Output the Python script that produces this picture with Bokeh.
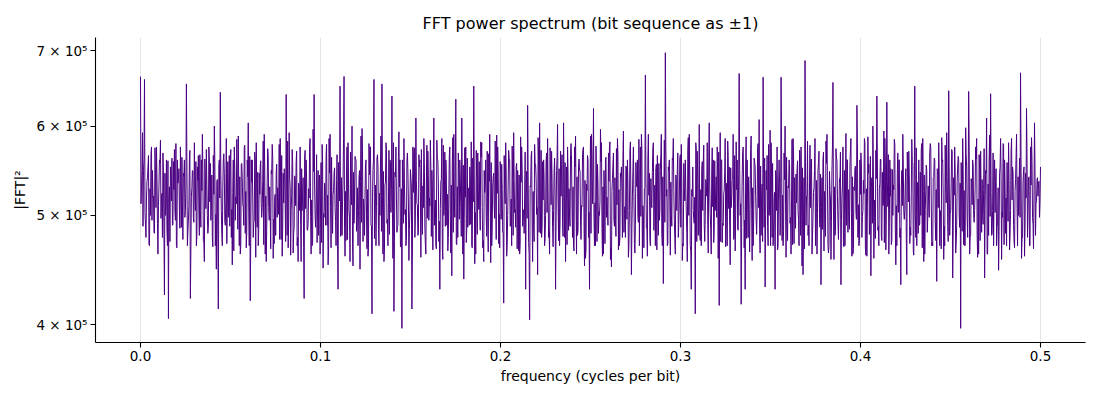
import numpy as np
from bokeh.plotting import figure
from bokeh.models import ColumnDataSource, Range1d, FixedTicker, PrintfTickFormatter
from bokeh.embed import file_html
from bokeh.resources import INLINE

# power values, in thousands (peaks / troughs)
power_k = [
    664, 592, 660, 518, 565, 500, 548, 482, 575, 510, 583, 478, 425, 560, 405, 552, 490, 572, 470, 538,
    575, 512, 560, 654, 495, 422, 548, 580, 470, 565, 505, 590, 455, 572, 488, 556, 478, 600, 448, 413,
    643, 470, 545, 585, 498, 560, 452, 575, 512, 588, 462, 540, 575, 468, 604, 420, 560, 495, 580, 470,
    552, 508, 590, 455, 565, 500, 578, 472, 545, 515, 585, 460, 550, 640, 468, 530, 572, 488, 558, 455,
    575, 505, 422, 560, 492, 585, 470, 640, 510, 548, 462, 578, 498, 565, 452, 590, 505, 545, 470, 430,
    651, 480, 664, 475, 580, 455, 600, 492, 560, 470, 448, 597, 505, 560, 460, 575, 409, 660, 470, 552,
    500, 654, 455, 580, 470, 560, 638, 411, 575, 490, 560, 397, 585, 470, 548, 505, 413, 570, 610, 480,
    560, 498, 585, 462, 570, 510, 548, 610, 470, 560, 430, 585, 500, 560, 465, 575, 442, 590, 634, 478,
    560, 610, 439, 575, 488, 552, 470, 651, 462, 568, 505, 580, 455, 560, 498, 590, 470, 545, 515, 575,
    468, 555, 418, 580, 500, 560, 470, 592, 488, 548, 462, 575, 505, 430, 626, 404, 570, 490, 555, 443,
    604, 478, 560, 500, 585, 462, 570, 505, 430, 602, 470, 555, 604, 455, 575, 498, 560, 470, 588, 480,
    548, 510, 575, 458, 565, 430, 590, 622, 470, 555, 500, 580, 462, 560, 505, 575, 450, 568, 495, 585,
    470, 552, 594, 478, 560, 505, 443, 575, 490, 560, 470, 590, 500, 666, 460, 545, 512, 580, 470, 565,
    495, 590, 435, 697, 470, 560, 500, 585, 462, 548, 515, 578, 470, 560, 455, 590, 430, 505, 409, 570,
    602, 470, 555, 498, 580, 604, 462, 560, 505, 575, 416, 560, 490, 585, 470, 552, 508, 590, 465, 560,
    668, 417, 575, 430, 560, 495, 588, 470, 552, 505, 608, 480, 663, 432, 565, 500, 580, 470, 430, 575,
    560, 663, 470, 600, 490, 560, 462, 585, 505, 548, 470, 575, 443, 686, 520, 470, 560, 500, 585, 462,
    570, 434, 560, 505, 590, 470, 457, 656, 480, 560, 505, 434, 575, 470, 560, 498, 585, 462, 550, 626,
    470, 568, 505, 580, 460, 555, 442, 600, 498, 638, 470, 560, 510, 585, 630, 462, 550, 500, 578, 470,
    560, 434, 590, 505, 443, 570, 480, 555, 651, 470, 560, 500, 585, 462, 548, 512, 575, 470, 560, 437,
    580, 498, 560, 470, 592, 645, 505, 440, 575, 490, 560, 397, 585, 470, 552, 644, 480, 560, 505, 585,
    462, 570, 500, 440, 610, 480, 641, 505, 560, 470, 447, 585, 498, 560, 470, 580, 505, 552, 468, 590,
    500, 669, 478, 460, 622, 540, 575, 498, 604, 515, 534, 552,
]

# in-between samples of the dense band, in thousands
power_mid_k = [
    530, 548, 490, 540, 470, 575, 520, 545, 492, 560, 515, 548, 500, 470, 530, 515, 558, 495, 560, 505,
    488, 545, 505, 470, 560, 520, 498, 505, 552, 480, 560, 475, 540, 500, 562, 505, 565, 470, 538, 560,
    505, 560, 490, 510, 565, 478, 560, 495, 540, 470, 555, 508, 482, 560, 470, 560, 478, 560, 488, 545,
    512, 582, 462, 535, 495, 548, 458, 522, 498, 578, 476, 545, 510, 480, 592, 505, 463, 538, 470, 528,
    455, 540, 571, 486, 518, 462, 596, 500, 473, 534, 557, 449, 526, 490, 585, 468, 522, 508, 566, 545,
    482, 537, 460, 575, 505, 528, 451, 564, 496, 541, 588, 474, 520, 467, 579, 490, 548, 515, 562, 470,
    588, 462, 532, 492, 571, 503, 458, 546, 483, 593, 469, 527, 501, 559, 456, 540, 575, 478, 512, 566,
    459, 531, 488, 577, 495, 552, 466, 508, 583, 474, 536, 457, 569, 490, 522, 463, 586, 498, 471, 545,
    508, 462, 574, 486, 529, 491, 562, 453, 538, 506, 581, 468, 524, 479, 567, 454, 531, 497, 589, 472,
    545, 483, 526, 460, 571, 492, 538, 503, 556, 465, 587, 489, 518, 547, 473, 530, 455, 578, 501, 561,
    482, 558, 470, 568, 478, 545, 488, 562, 548, 475, 570, 492, 478, 552, 485, 566, 478, 575, 462, 552,
    495, 566, 451, 533, 478, 588, 512, 470, 543, 482, 596, 460, 527, 498, 568, 457, 539, 489, 573, 466,
    545, 478, 502, 552, 459, 581, 520, 472, 534, 493, 575, 458, 528, 487, 590, 470, 546, 511, 555, 480,
    548, 470, 583, 520, 552, 461, 562, 495, 538, 478, 566, 456, 529, 504, 586, 470, 520, 492, 573, 480,
    475, 558, 490, 532, 463, 502, 574, 486, 541, 458, 592, 473, 526, 499, 565, 452, 537, 480, 581, 485,
    500, 540, 468, 587, 478, 521, 456, 562, 497, 579, 463, 533, 488, 548, 470, 595, 478, 516, 540, 470,
    480, 475, 568, 459, 531, 492, 584, 472, 544, 505, 566, 451, 540, 490, 480, 577, 462, 529, 496, 548,
    488, 540, 465, 582, 470, 526, 548, 457, 573, 493, 535, 520, 469, 591, 483, 552, 460, 530, 505, 478,
    560, 478, 523, 461, 587, 497, 540, 458, 571, 485, 533, 475, 594, 466, 509, 560, 475, 527, 452, 568,
    478, 548, 503, 550, 540, 472, 584, 461, 478, 535, 492, 579, 455, 526, 498, 568, 470, 541, 475, 548,
    470, 586, 457, 529, 490, 480, 572, 540, 463, 553, 488, 520, 471, 598, 478, 462, 534, 501, 575, 459,
    548, 483, 527, 548, 462, 589, 480, 470, 536, 494, 545, 457, 577, 482, 523, 466, 585, 491, 538, 470,
    562, 458, 548, 545, 478, 470, 586, 467, 480, 540, 498,
]

# the finest samples filling the dark core of the band, in thousands
power_fill_k = [
    512, 547, 489, 561, 503, 478, 536, 552, 471, 528, 566, 495, 519, 483, 574, 508, 540, 462, 531, 557,
    497, 523, 568, 480, 545, 509, 486, 559, 516, 474, 538, 562, 491, 527, 505, 579, 468, 534, 550, 487,
    521, 563, 476, 542, 498, 531, 556, 484, 510, 571, 466, 529, 547, 493, 518, 558, 479, 537, 502, 566,
    488, 526, 549, 473, 561, 507, 532, 482, 575, 514, 495, 543, 469, 522, 560, 501, 536, 477, 553, 518,
    545, 481, 529, 567, 494, 515, 472, 558, 533, 489, 572, 506, 524, 465, 548, 519, 584, 486, 530, 541,
    470, 556, 512, 490, 577, 525, 483, 541, 503, 564, 476, 535, 517, 492, 569, 459, 528, 546, 485, 522,
    559, 498, 537, 471, 551, 520, 486, 573, 508, 530, 467, 544, 563, 496, 518, 480, 555, 529, 501, 476,
    532, 565, 487, 513, 548, 474, 527, 582, 495, 539, 461, 520, 557, 483, 542, 510, 570, 478, 534, 505,
    491, 550, 523, 468, 562, 507, 538, 485, 528, 576, 499, 516, 473, 547, 531, 488, 566, 512, 480, 543,
    518, 473, 559, 502, 534, 490, 578, 521, 465, 545, 509, 563, 482, 526, 551, 494, 537, 470, 557, 515,
    479, 540, 514, 585, 488, 525, 552, 476, 533, 498, 569, 511, 472, 546, 520, 561, 484, 529, 505, 548,
    536, 493, 571, 517, 480, 554, 501, 527, 468, 543, 575, 490, 519, 560, 477, 532, 509, 566, 486, 523,
    554, 484, 520, 547, 466, 535, 572, 496, 513, 481, 557, 527, 504, 580, 474, 541, 518, 489, 563, 530,
    469, 528, 560, 492, 539, 506, 475, 568, 515, 486, 549, 531, 463, 524, 574, 498, 537, 511, 482, 552,
    525, 572, 481, 508, 556, 471, 533, 497, 542, 518, 583, 479, 529, 550, 490, 516, 467, 561, 535, 494,
    507, 538, 466, 577, 513, 489, 546, 522, 478, 565, 500, 532, 555, 483, 520, 547, 472, 530, 568, 496,
    542, 479, 531, 554, 497, 519, 473, 562, 528, 490, 539, 581, 468, 514, 545, 503, 571, 481, 526, 558,
    485, 563, 508, 475, 548, 532, 499, 570, 464, 536, 519, 557, 487, 541, 510, 582, 476, 523, 549, 501,
    558, 496, 527, 483, 565, 512, 545, 470, 533, 561, 489, 517, 576, 480, 538, 506, 552, 467, 529, 543,
    472, 535, 551, 506, 482, 569, 520, 497, 548, 462, 531, 564, 493, 525, 474, 555, 539, 508, 586, 483,
    530, 571, 488, 516, 540, 477, 559, 503, 526, 484, 574, 511, 537, 469, 546, 522, 492, 563, 514, 550,
    494, 520, 566, 479, 534, 557, 500, 471, 544, 528, 489, 579, 507, 530, 465, 552, 518, 541, 485, 561,
    548, 476, 509, 573, 494, 537, 467, 526, 560, 503, 521, 482, 567, 539, 498, 513, 576, 474, 532, 504,
    515, 558, 487, 530, 548, 472, 563, 519, 490, 536, 581, 468, 525, 554, 496, 540, 479, 511, 566, 527,
    478, 541, 525, 562, 483, 509, 553, 496, 534, 470, 570, 516, 488, 547, 523, 463, 557, 530, 499, 584,
    537, 499, 572, 510, 468, 529, 545, 487, 561, 521, 478, 539, 508, 574, 485, 532, 550, 466, 522, 556,
    503, 566, 481, 541, 519, 493, 576, 527, 472, 548, 512, 535, 489, 560, 526, 477, 543, 505, 568, 491,
    561, 488, 534, 472, 556, 515, 529, 483, 571, 500, 542, 465, 527, 552, 496, 519, 580, 474, 536, 513,
    482, 527, 549, 505, 577, 474, 538, 520, 491, 563, 530, 486, 546, 509, 473, 559, 524, 498, 541, 569,
    529, 474, 560, 492, 523, 546, 469, 534, 582, 507, 488, 551, 517, 538, 476, 565, 500, 527, 486, 545,
    549, 512, 488, 568, 530, 495, 553, 477, 516, 541, 464, 572, 506, 529, 493, 558, 521, 481, 574, 508,
    486, 553, 519, 474, 545, 562, 501, 527, 489, 578, 512, 470, 539, 556, 483, 524, 548, 505, 466, 533,
    534, 492, 576, 521, 484, 538, 511, 563, 475, 529, 555, 498, 518, 471, 566, 540, 487, 513, 559, 495,
    571, 480, 526, 551, 498, 467, 543, 520, 582, 490, 535, 508, 561, 479, 524, 548, 470, 537, 502, 557,
    497, 544, 508, 486, 569, 525, 479, 556, 532, 463, 547, 518, 494, 575, 509, 530, 484, 562, 521, 476,
    539, 569, 495, 531, 470, 548, 515, 490, 560, 527, 486, 572, 503, 541, 467, 526, 553, 496, 580, 511,
    475, 522, 553, 499, 537, 585, 468, 528, 509, 545, 481, 564, 530, 492, 551, 516, 477, 539, 561, 489,
    528, 561, 479, 546, 512, 473, 559, 501, 536, 566, 493, 520, 471, 549, 532, 584, 486, 510, 545, 503,
    560, 487, 530, 510, 552, 496, 534, 476, 569, 514, 542, 488, 523, 557, 465, 538, 501, 574, 519, 482,
    490, 546, 572, 468, 525, 543, 506, 554, 483, 531, 498, 579, 516, 473, 540, 562, 494, 527, 550, 508,
    543, 505, 467, 558, 520, 489, 577, 513, 541, 474, 551, 502, 535, 569, 485, 521, 547, 472, 536, 564,
    501, 534, 557, 484, 548, 526, 470, 566, 497, 522, 583, 478, 539, 511, 554, 493, 529, 561, 480, 517,
    566, 475, 521, 538, 491, 573, 507, 545, 462, 533, 559, 499, 524, 481, 568, 536, 503, 550, 488, 529,
    484, 552, 540, 503, 579, 471, 531, 518, 557, 494, 537, 480, 570, 516, 546, 474, 525, 563, 507, 541,
    523, 498, 561, 476, 534, 552, 487, 518, 565, 505, 541, 470, 532, 558, 491, 527, 549, 512, 538, 520,
    536, 514,
]

max_freq = 0.5
x_ticks = [0.0, 0.1, 0.2, 0.3, 0.4, 0.5]
y_ticks = [400000, 500000, 600000, 700000]
y_tick_labels = ["4 × 10⁵", "5 × 10⁵", "6 × 10⁵", "7 × 10⁵"]

# put the read samples back in their order along the frequency axis
coarse = np.empty(len(power_k) + len(power_mid_k))
coarse[0::2] = power_k
coarse[1::2] = power_mid_k
power = np.empty(len(coarse) + len(power_fill_k))
power[0::2] = coarse
power[1::2] = power_fill_k
power = power * 1000.0
freq = np.linspace(0, max_freq, len(power))

source = ColumnDataSource(data=dict(freq=freq, power=power))

FONT = "DejaVu Sans"

p = figure(width=1090, height=392, y_axis_type="log",
           x_range=Range1d(-0.025, 0.525), y_range=Range1d(385700, 719000),
           title="FFT power spectrum (bit sequence as ±1)",
           x_axis_label="frequency (cycles per bit)", y_axis_label="|FFT|²",
           output_backend="svg", toolbar_location=None,
           min_border_left=95, min_border_right=5, min_border_top=37, min_border_bottom=50)

p.line('freq', 'power', source=source, color="#4B0082", line_width=1.0)

p.title.align = "center"
p.title.text_font = FONT
p.title.text_font_size = "16px"
p.title.text_font_style = "normal"
p.title.text_color = "#000000"
p.outline_line_color = None

p.xaxis.ticker = FixedTicker(ticks=x_ticks)
p.xaxis.formatter = PrintfTickFormatter(format="%.1f")
p.yaxis.ticker = FixedTicker(ticks=y_ticks, minor_ticks=[])
p.yaxis.major_label_overrides = dict(zip(y_ticks, y_tick_labels))

for ax in (p.xaxis, p.yaxis):
    ax.axis_label_text_font = FONT
    ax.axis_label_text_font_size = "14px"
    ax.axis_label_text_font_style = "normal"
    ax.axis_label_text_color = "#000000"
    ax.major_label_text_font = FONT
    ax.major_label_text_font_size = "13.5px"
    ax.major_label_text_color = "#000000"
    ax.major_label_standoff = 3
    ax.axis_line_color = "#000000"
    ax.axis_line_width = 1.1
    ax.major_tick_line_color = "#000000"
    ax.major_tick_line_width = 1.1
    ax.major_tick_in = 0
    ax.major_tick_out = 5
    ax.minor_tick_line_color = None

p.xaxis.axis_label_standoff = 4
p.yaxis.axis_label_standoff = 5

p.xgrid.ticker = FixedTicker(ticks=x_ticks)
p.xgrid.grid_line_color = "#e5e5e5"
p.xgrid.grid_line_width = 1.0
p.ygrid.grid_line_color = None

open("out.html", "w").write(file_html(p, INLINE))
